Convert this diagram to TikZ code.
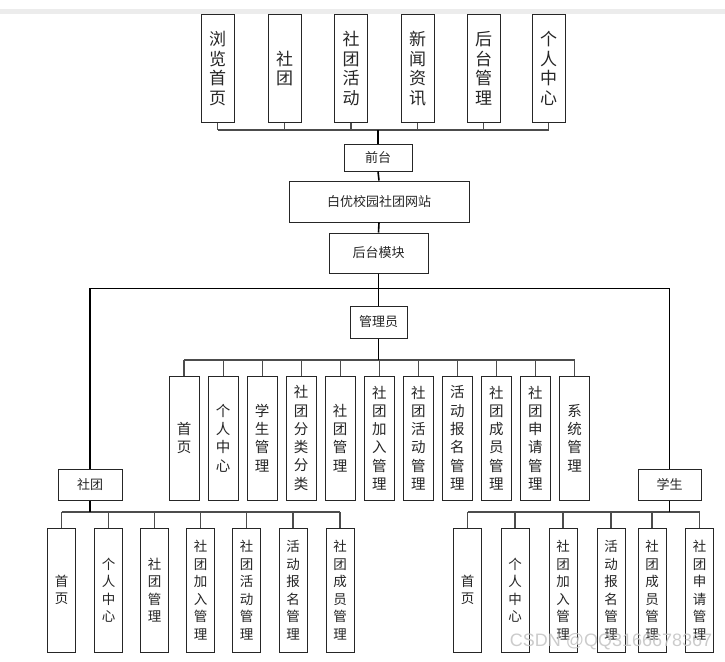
\documentclass[tikz,border=0pt]{standalone}
\usepackage{fontspec}
\newfontfamily\cjk{Noto Sans CJK SC}
\setsansfont{Liberation Sans}
\begin{document}
\begin{tikzpicture}[x=1pt,y=-1pt,
  box/.style={draw=black!85,line width=1pt,fill=white,rectangle,inner sep=0pt,align=center,text=black!85},
  topbox/.style={box,minimum width=33pt,minimum height=107pt,font=\cjk\fontsize{17}{19.5}\selectfont},
  admbox/.style={box,minimum width=30pt,minimum height=124pt,font=\cjk\fontsize{14.5}{18.3}\selectfont},
  lowbox/.style={box,minimum width=28pt,minimum height=124pt,font=\cjk\fontsize{13.5}{17.5}\selectfont},
  midbox/.style={box,font=\cjk\fontsize{13}{15}\selectfont},
  conn/.style={draw=black!70,line width=1.1pt},
  trunk/.style={draw=black,line width=1.6pt}]
\useasboundingbox (0,0) rectangle (725,661);
\fill[gray!15] (0,9) rectangle (725,14);
% top row
\node[topbox] (t1) at (217.5,68.5) {浏\\览\\首\\页};
\node[topbox] (t2) at (284.5,68.5) {社\\团};
\node[topbox] (t3) at (351,68.5) {社\\团\\活\\动};
\node[topbox] (t4) at (417.5,68.5) {新\\闻\\资\\讯};
\node[topbox] (t5) at (483.5,68.5) {后\\台\\管\\理};
\node[topbox] (t6) at (548.5,68.5) {个\\人\\中\\心};
% middle chain
\node[midbox,minimum width=68pt,minimum height=27pt] (qt) at (378,157.5) {前台};
\node[midbox,minimum width=180pt,minimum height=41pt] (wz) at (379,201.5) {白优校园社团网站};
\node[midbox,minimum width=99pt,minimum height=40pt] (hm) at (378.5,253) {后台模块};
\node[midbox,minimum width=57pt,minimum height=32pt] (gl) at (378.5,322) {管理员};
\node[midbox,minimum width=64pt,minimum height=31pt] (st) at (90,484.5) {社团};
\node[midbox,minimum width=63pt,minimum height=31pt] (xs) at (669.5,484.5) {学生};
% admin children
\node[admbox] (a1) at (184,438) {首\\页};
\node[admbox] (a2) at (223.05,438) {个\\人\\中\\心};
\node[admbox] (a3) at (262.1,438) {学\\生\\管\\理};
\node[admbox] (a4) at (301.15,438) {社\\团\\分\\类\\分\\类};
\node[admbox] (a5) at (340.2,438) {社\\团\\管\\理};
\node[admbox] (a6) at (379.25,438) {社\\团\\加\\入\\管\\理};
\node[admbox] (a7) at (418.3,438) {社\\团\\活\\动\\管\\理};
\node[admbox] (a8) at (457.35,438) {活\\动\\报\\名\\管\\理};
\node[admbox] (a9) at (496.4,438) {社\\团\\成\\员\\管\\理};
\node[admbox] (a10) at (535.45,438) {社\\团\\申\\请\\管\\理};
\node[admbox] (a11) at (574.5,438) {系\\统\\管\\理};
% club children
\node[lowbox] (l1) at (61.5,590) {首\\页};
\node[lowbox] (l2) at (108.5,590) {个\\人\\中\\心};
\node[lowbox] (l3) at (154.5,590) {社\\团\\管\\理};
\node[lowbox] (l4) at (200.5,590) {社\\团\\加\\入\\管\\理};
\node[lowbox] (l5) at (246.5,590) {社\\团\\活\\动\\管\\理};
\node[lowbox] (l6) at (293,590) {活\\动\\报\\名\\管\\理};
\node[lowbox] (l7) at (340,590) {社\\团\\成\\员\\管\\理};
% student children
\node[lowbox] (r1) at (467.5,590) {首\\页};
\node[lowbox] (r2) at (515,590) {个\\人\\中\\心};
\node[lowbox] (r3) at (563,590) {社\\团\\加\\入\\管\\理};
\node[lowbox] (r4) at (611,590) {活\\动\\报\\名\\管\\理};
\node[lowbox] (r5) at (652,590) {社\\团\\成\\员\\管\\理};
\node[lowbox] (r6) at (699.5,590) {社\\团\\申\\请\\管\\理};
% bus coordinates
\coordinate (tb) at (378,130);
\coordinate (hb) at (378.5,288.5);
\coordinate (ab) at (378.5,360);
\coordinate (lb) at (90,512);
\coordinate (rb) at (669.5,512);
% top connectors
\foreach \n in {t1,t2,t3,t4,t5,t6} \draw[conn] (\n.south) -- (\n.south |- tb);
\draw[conn] (t1.south |- tb) -- (t6.south |- tb);
\draw[trunk] (tb) -- (qt.north);
\draw[trunk] (qt.south) -- (wz.north);
\draw[trunk] (wz.south) -- (hm.north);
\draw[trunk] (hm.south) -- (gl.north);
\draw[trunk] (st.north) |- (xs.north |- hb) -- (xs.north);
% admin connectors
\foreach \n in {a1,a2,a3,a4,a5,a6,a7,a8,a9,a10,a11} \draw[conn] (\n.north) -- (\n.north |- ab);
\draw[conn] (a1.north |- ab) -- (a11.north |- ab);
\draw[trunk] (gl.south) -- (ab);
% club connectors
\foreach \n in {l1,l2,l3,l4,l5,l6,l7} \draw[conn] (\n.north) -- (\n.north |- lb);
\draw[conn] (l1.north |- lb) -- (l7.north |- lb);
\draw[trunk] (st.south) -- (lb);
% student connectors
\foreach \n in {r1,r2,r3,r4,r5,r6} \draw[conn] (\n.north) -- (\n.north |- rb);
\draw[conn] (r1.north |- rb) -- (r6.north |- rb);
\draw[trunk] (xs.south) -- (rb);
% watermark
\node[font=\sffamily\fontsize{18}{18}\selectfont,text=gray!45,opacity=0.9,inner sep=0pt] (wm) at (611,642) {CSDN @QQ3166678367};
\end{tikzpicture}
\end{document}
